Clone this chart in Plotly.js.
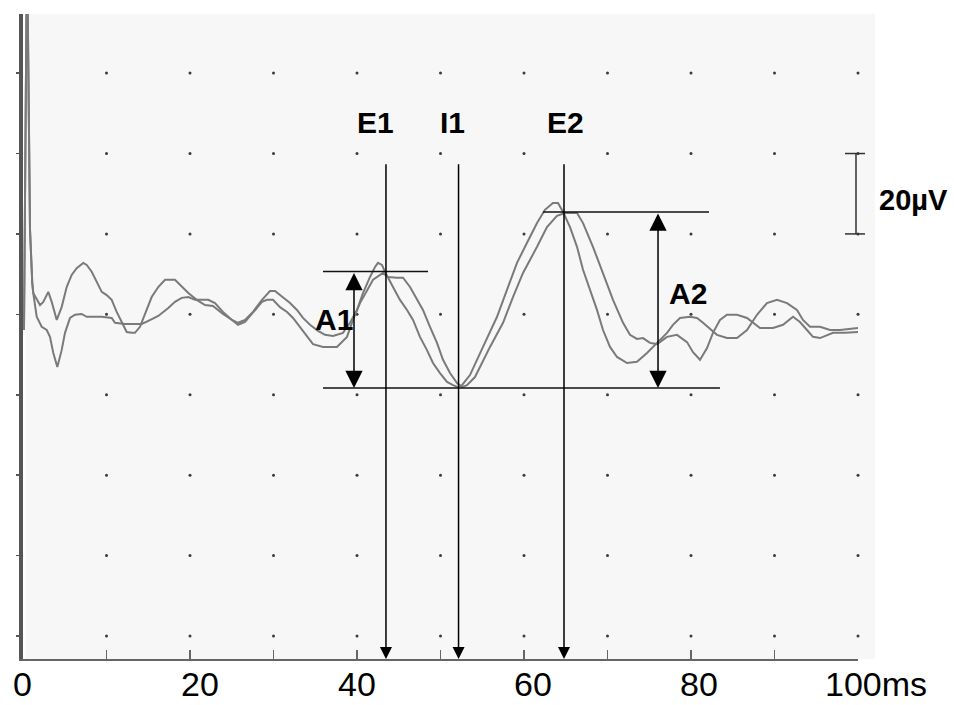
<!DOCTYPE html>
<html>
<head>
<meta charset="utf-8">
<script src="https://cdn.plot.ly/plotly-3.0.1.min.js"></script>
<style>html,body{margin:0;padding:0;background:#fff;}#chart{width:954px;height:705px;}</style>
</head>
<body>
<div id="chart"></div>
<script>
// ---- data (time in ms, amplitude in µV) ----
const timeA = [0.12,0.48,0.84,0.96,1.11,1.23,1.64,2.04,2.43,3.03,3.44,4.04,4.63,5.23,5.83,6.43,7.22,7.63,8.23,8.83,9.43,10.02,10.62,11.22,11.82,12.42,13.02,13.41,14.01,14.81,15.41,16.20,17.01,18.20,19.01,19.80,20.80,21.80,22.75,23.95,25.03,25.75,26.59,27.54,28.62,29.58,30.18,31.14,31.98,32.81,33.53,34.37,35.33,36.17,37.13,38.32,39.16,40.00,40.72,41.56,42.16,42.51,42.99,43.35,43.71,44.31,45.15,45.99,46.71,47.54,48.38,49.10,49.94,50.78,51.50,52.10,52.57,53.53,55.09,56.77,57.96,59.16,60.36,61.56,62.51,63.47,64.07,64.67,65.51,66.35,67.07,67.90,68.74,69.46,70.30,71.14,72.34,73.53,74.73,75.93,77.13,77.84,78.68,79.88,80.72,81.44,82.28,83.11,84.31,85.51,86.71,87.90,89.10,90.30,91.50,92.69,93.41,94.25,95.45,96.65,97.84,99.04,100.0];
const voltA = [76.1,173.1,101.0,92.8,87.8,85.3,83.6,82.3,83.1,85.6,83.1,78.6,81.8,86.8,89.8,91.5,92.8,92.3,90.6,88.1,85.6,84.8,83.6,80.6,77.9,75.6,75.4,75.4,76.9,81.1,84.3,86.8,88.6,88.6,86.8,85.3,83.6,82.3,82.1,80.1,78.6,77.9,78.6,80.6,83.6,85.8,85.8,84.3,82.8,81.1,79.1,77.4,75.9,74.9,74.6,75.4,77.9,81.1,85.3,89.3,91.8,92.8,92.3,90.6,89.3,86.8,83.6,81.1,78.6,74.4,71.1,67.9,65.4,63.2,62.4,61.9,62.4,64.9,71.9,79.4,86.1,92.8,97.8,102.7,106.0,107.7,107.7,105.5,101.7,96.8,91.1,86.1,81.1,76.1,71.9,69.4,67.9,68.2,70.4,72.9,75.4,77.4,79.1,79.4,79.1,77.9,76.4,74.9,74.1,74.1,76.1,79.9,82.8,83.6,82.8,81.1,78.6,76.9,76.9,76.1,76.1,76.4,76.6];

const timeB = [0.12,0.48,0.84,0.96,1.11,1.23,1.64,2.24,2.84,3.23,3.63,4.11,4.63,5.03,5.63,6.23,7.03,7.63,9.43,10.62,11.02,12.22,14.22,15.01,16.20,17.40,18.20,19.01,19.80,20.60,21.40,22.19,22.99,23.95,25.03,25.75,26.59,27.78,28.62,29.22,29.94,30.78,31.62,32.34,33.17,34.01,34.73,35.93,37.60,38.80,39.52,40.36,41.20,41.92,43.11,43.71,44.79,45.51,46.35,47.19,47.90,48.74,49.58,50.30,51.14,51.98,52.57,53.17,54.13,55.93,57.49,58.68,59.88,61.56,62.75,63.95,64.91,66.35,67.07,68.26,69.46,70.66,71.86,72.69,73.53,74.25,75.09,75.93,77.13,78.32,79.52,80.24,81.08,81.92,82.63,83.47,84.31,85.51,86.71,87.43,88.26,89.82,91.02,92.22,93.05,93.89,94.61,95.45,97.01,98.44,100.0];
const voltB = [76.1,173.1,101.0,92.8,87.8,85.3,79.4,76.9,76.1,74.4,70.4,66.9,71.1,75.4,79.1,79.9,80.1,79.4,79.4,79.1,77.9,77.6,77.6,78.4,79.6,81.6,83.1,84.1,84.3,83.6,83.6,83.6,82.8,80.6,78.6,77.4,78.1,81.1,83.1,83.6,83.6,81.8,80.6,79.1,76.9,74.4,72.6,71.9,71.9,74.4,78.6,82.8,86.1,88.6,90.3,89.3,89.1,89.1,86.8,83.6,81.1,76.9,72.9,68.7,65.4,62.9,61.9,62.4,64.4,71.9,77.9,84.3,90.3,96.8,101.7,104.5,105.2,105.2,102.7,96.8,90.3,83.6,77.9,74.9,73.9,74.1,72.9,72.6,74.4,74.9,73.1,70.6,68.7,71.6,75.4,78.6,79.9,79.9,79.1,77.9,76.6,76.6,77.4,79.4,78.1,76.1,74.4,74.1,75.4,75.4,75.6];

// axis ticks / labels
const xTickVals = [0, 20, 40, 60, 80, 100];
const xTickText = ['0', '20', '40', '60', '80', '100ms'];
const gridX = [10, 20, 30, 40, 50, 60, 70, 80, 90, 100];
const gridY = [0, 20, 40, 60, 80, 100, 120, 140];

// wave markers (latencies, ms)
const peakNames = ['E1', 'I1', 'E2'];
const peakTimes = [43.47, 52.16, 64.79];
// amplitude measurements (µV levels)
const ampNames = ['A1', 'A2'];
const ampTimes = [39.64, 76.05];
const ampTop = [90.67, 105.47];
const ampBase = 61.69;
const scaleBar = [100, 120]; // 20 µV

// ---- layout helpers (positions/styles only) ----
const yMin = -5.72, yMax = 154.7;
const labelShift = [-1, 10, 0, 9, 8, -34];
const peakLineTop = 117.7;
const FONT = 'Liberation Sans, Arial, Helvetica, sans-serif';

const gx = [], gy = [];
gridX.forEach(x => gridY.forEach(y => { gx.push(x); gy.push(y); }));

const traces = [
  {x: gx, y: gy, type: 'scatter', mode: 'markers', cliponaxis: false,
   marker: {size: 3, color: '#3a3a3a'}, hoverinfo: 'skip', showlegend: false},
  {x: timeA, y: voltA, type: 'scatter', mode: 'lines',
   line: {color: '#7a7a7a', width: 2}, hoverinfo: 'skip', showlegend: false},
  {x: timeB, y: voltB, type: 'scatter', mode: 'lines',
   line: {color: '#7a7a7a', width: 2}, hoverinfo: 'skip', showlegend: false}
];

const shapes = [
  {type: 'rect', xref: 'paper', yref: 'paper', x0: 0.003, x1: 1.0204, y0: 0, y1: 1,
   fillcolor: '#f7f7f7', line: {width: 0}, layer: 'below'},
  // horizontal reference lines
  {type: 'line', xref: 'x', yref: 'y', x0: 35.93, x1: 48.50, y0: ampTop[0], y1: ampTop[0], line: {color: '#111', width: 1.5}},
  {type: 'line', xref: 'x', yref: 'y', x0: 35.93, x1: 83.47, y0: ampBase, y1: ampBase, line: {color: '#111', width: 1.5}},
  {type: 'line', xref: 'x', yref: 'y', x0: 62.28, x1: 82.16, y0: ampTop[1], y1: ampTop[1], line: {color: '#111', width: 1.5}},
  // scale bar
  {type: 'line', xref: 'paper', yref: 'y', x0: 0.9976, x1: 0.9976, y0: scaleBar[0], y1: scaleBar[1], line: {color: '#333', width: 1.5}},
  {type: 'line', xref: 'paper', yref: 'y', x0: 0.9844, x1: 1.0084, y0: scaleBar[0], y1: scaleBar[0], line: {color: '#333', width: 1.5}},
  {type: 'line', xref: 'paper', yref: 'y', x0: 0.9844, x1: 1.0084, y0: scaleBar[1], y1: scaleBar[1], line: {color: '#333', width: 1.5}}
];

const annotations = [];
// x tick labels
xTickVals.forEach((v, i) => {
  const last = i === xTickVals.length - 1;
  annotations.push({x: v, y: -0.038, xref: 'x', yref: 'paper', text: xTickText[i],
    showarrow: false, xanchor: last ? 'left' : 'center', yanchor: 'middle',
    xshift: labelShift[i], borderpad: 0, font: {family: FONT, size: 34, color: '#000'}});
});
// peak latency arrows and labels
peakNames.forEach((n, i) => {
  annotations.push({x: peakTimes[i], y: yMin, ax: peakTimes[i], ay: peakLineTop,
    xref: 'x', yref: 'y', axref: 'x', ayref: 'y', text: '', showarrow: true,
    arrowhead: 2, arrowsize: 1.6, arrowwidth: 1.5, arrowcolor: '#000', standoff: 0});
});
const peakLabelX = [42.16, 51.38, 64.91];
peakNames.forEach((n, i) => {
  annotations.push({x: peakLabelX[i], y: 127.7, xref: 'x', yref: 'y', text: '<b>' + n + '</b>',
    showarrow: false, xanchor: 'center', yanchor: 'middle',
    font: {family: FONT, size: 30, color: '#000'}});
});
// amplitude double arrows
ampNames.forEach((n, i) => {
  annotations.push({x: ampTimes[i], y: ampBase, ax: ampTimes[i], ay: ampTop[i],
    xref: 'x', yref: 'y', axref: 'x', ayref: 'y', text: '', showarrow: true,
    arrowside: 'end+start', arrowhead: 2, startarrowhead: 2, arrowsize: 2.3, startarrowsize: 2.3,
    arrowwidth: 1.5, arrowcolor: '#000', standoff: 0, startstandoff: 0});
});
const ampLabelPos = [[37.25, 78.6], [79.64, 85.1]];
ampNames.forEach((n, i) => {
  annotations.push({x: ampLabelPos[i][0], y: ampLabelPos[i][1], xref: 'x', yref: 'y',
    text: '<b>' + n + '</b>', showarrow: false, xanchor: 'center', yanchor: 'middle',
    font: {family: FONT, size: 30, color: '#000'}});
});
// scale bar label
annotations.push({x: 1.0228, y: 108.5, xref: 'paper', yref: 'y', text: '<b>20µV</b>',
  showarrow: false, xanchor: 'left', yanchor: 'middle',
  font: {family: FONT, size: 29, color: '#000'}});

const layout = {
  width: 954, height: 705,
  margin: {l: 23, r: 96, t: 14, b: 46, pad: 0},
  paper_bgcolor: '#ffffff', plot_bgcolor: 'rgba(0,0,0,0)',
  showlegend: false,
  xaxis: {range: [0, 100], showgrid: false, zeroline: false, showline: true,
    linecolor: '#666', linewidth: 2, ticks: 'inside', ticklen: 9, tickwidth: 1.5, tickcolor: '#666',
    tickmode: 'array', tickvals: gridX.slice(0, 9), showticklabels: false, fixedrange: true},
  yaxis: {range: [yMin, yMax], showgrid: false, zeroline: false, showline: true,
    linecolor: '#555', linewidth: 4, ticks: 'outside', ticklen: 3, tickwidth: 1.5, tickcolor: '#555',
    tickmode: 'array', tickvals: gridY, showticklabels: false, fixedrange: true},
  shapes: shapes,
  annotations: annotations
};

Plotly.newPlot('chart', traces, layout, {displayModeBar: false, staticPlot: true});
</script>
</body>
</html>
